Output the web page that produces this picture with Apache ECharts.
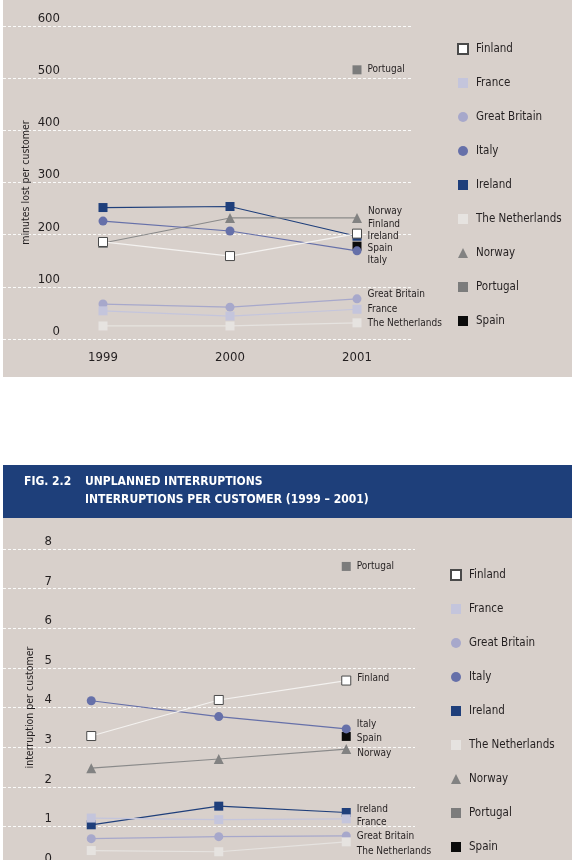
<!DOCTYPE html>
<html>
<head>
<meta charset="utf-8">
<script src="https://cdn.jsdelivr.net/npm/echarts@6/dist/echarts.min.js"></script>
<style>
html,body{margin:0;padding:0;background:#ffffff;}
#chart{width:576px;height:860px;}
</style>
</head>
<body>
<div id="chart"></div>
<script>
// ---------- DATA ----------
var years = ['1999', '2000', '2001'];
var countries = ['Finland', 'France', 'Great Britain', 'Italy', 'Ireland', 'The Netherlands', 'Norway', 'Portugal', 'Spain'];

// Fig 2.1 : minutes lost per customer
var minFinland     = [186, 159, 202];
var minFrance      = [54, 44, 57];
var minGreatBritain= [67, 61, 77];
var minItaly       = [226, 207, 169];
var minIreland     = [252, 254, 197];
var minNetherlands = [25, 25, 31];
var minNorway      = [184, 232, 232];
var minPortugal    = [null, null, 516];
var minSpain       = [null, null, 178];
var minTicks       = [0, 100, 200, 300, 400, 500, 600];

// Fig 2.2 : interruptions per customer
var intFinland     = [3.28, 4.19, 4.68];
var intFrance      = [1.21, 1.17, 1.19];
var intGreatBritain= [0.69, 0.74, 0.76];
var intItaly       = [4.17, 3.77, 3.46];
var intIreland     = [1.04, 1.51, 1.35];
var intNetherlands = [0.39, 0.36, 0.61];
var intNorway      = [2.47, 2.70, 2.95];
var intPortugal    = [null, null, 7.56];
var intSpain       = [null, null, 3.27];
var intTicks       = [0, 1, 2, 3, 4, 5, 6, 7, 8];

var headerFig   = 'FIG. 2.2';
var headerTitle = 'UNPLANNED INTERRUPTIONS\nINTERRUPTIONS PER CUSTOMER (1999 – 2001)';
var nameTop     = 'minutes lost per customer';
var nameBottom  = 'interruption per customer';

// ---------- STYLE ----------
var FONT = '"Liberation Sans Narrow", "DejaVu Sans Condensed", "Liberation Sans", sans-serif';
var TXT = '#231f20';
var styles = {
  'Finland':         {symbol: 'rect',     size: 9,  fill: '#ffffff', border: '#4a4a4a', bw: 1, line: '#f4f2f0', z: 6},
  'France':          {symbol: 'rect',     size: 9,  fill: '#c4c5dc', border: '#c4c5dc', bw: 0, line: '#c4c5dc', z: 5},
  'Great Britain':   {symbol: 'circle',   size: 9,  fill: '#a7a8cb', border: '#a7a8cb', bw: 0, line: '#a7a8cb', z: 3},
  'Italy':           {symbol: 'circle',   size: 9,  fill: '#6670a9', border: '#6670a9', bw: 0, line: '#6670a9', z: 4},
  'Ireland':         {symbol: 'rect',     size: 9,  fill: '#1f3f7b', border: '#1f3f7b', bw: 0, line: '#1f3f7b', z: 3},
  'The Netherlands': {symbol: 'rect',     size: 9,  fill: '#e6e3e0', border: '#e6e3e0', bw: 0, line: '#e6e3e0', z: 3},
  'Norway':          {symbol: 'triangle', size: 10, fill: '#828282', border: '#828282', bw: 0, line: '#8a8a8a', z: 3},
  'Portugal':        {symbol: 'rect',     size: 9,  fill: '#7c7c7c', border: '#7c7c7c', bw: 0, line: '#7c7c7c', z: 3},
  'Spain':           {symbol: 'rect',     size: 9,  fill: '#0b0b0b', border: '#0b0b0b', bw: 0, line: '#0b0b0b', z: 3}
};
// vertical shift of the end labels (px)
var offTop = {'Finland': -9, 'France': 0, 'Great Britain': -4, 'Italy': 10, 'Ireland': 0,
              'The Netherlands': 1, 'Norway': -7, 'Portugal': 0, 'Spain': 2};
var offBot = {'Finland': -2, 'France': 4, 'Great Britain': 1, 'Italy': -4, 'Ireland': -3,
              'The Netherlands': 10, 'Norway': 4, 'Portugal': 0, 'Spain': 2};

var dataTop = [minFinland, minFrance, minGreatBritain, minItaly, minIreland, minNetherlands, minNorway, minPortugal, minSpain];
var dataBot = [intFinland, intFrance, intGreatBritain, intItaly, intIreland, intNetherlands, intNorway, intPortugal, intSpain];

function buildSeries(arr, axisIdx, offs) {
  return countries.map(function (name, i) {
    var s = styles[name];
    var vals = arr[i];
    var last = vals.length - 1;
    var d = vals.map(function (v, j) {
      if (j === last) {
        return {value: v, label: {show: true, position: 'right', distance: 6, offset: [0, offs[name]],
          formatter: name, color: TXT, fontSize: 10, fontFamily: FONT}};
      }
      return v;
    });
    return {
      name: name, type: 'line', xAxisIndex: axisIdx, yAxisIndex: axisIdx,
      data: d, symbol: s.symbol, symbolSize: s.size, showAllSymbol: true,
      connectNulls: false, z: s.z,
      lineStyle: {color: s.line, width: 1.2},
      itemStyle: {color: s.fill, borderColor: s.border, borderWidth: s.bw, opacity: 1},
      emphasis: {disabled: true},
      animation: false
    };
  });
}

function legendData() {
  return countries.map(function (n) {
    return {name: n, icon: styles[n].symbol === 'circle' ? 'circle' : (styles[n].symbol === 'triangle' ? 'triangle' : 'rect')};
  });
}

function legend(left, top) {
  return {
    orient: 'vertical', left: left, top: top,
    itemWidth: 10, itemHeight: 10, itemGap: 18,
    selectedMode: false,
    data: legendData(),
    textStyle: {color: TXT, fontSize: 11.5, fontFamily: FONT, lineHeight: 16, padding: [0, 0, 0, 3]}
  };
}

var splitStyle = {show: true, lineStyle: {color: '#ffffff', type: [3, 2], width: 1, opacity: 0.9}};

var option = {
  backgroundColor: '#ffffff',
  animation: false,
  textStyle: {fontFamily: FONT},
  graphic: [
    {type: 'rect', z: -100, shape: {x: 3, y: 0, width: 569, height: 377}, style: {fill: '#d8d0cb'}, silent: true},
    {type: 'rect', z: -100, shape: {x: 3, y: 465, width: 569, height: 53}, style: {fill: '#1e3f7a'}, silent: true},
    {type: 'rect', z: -100, shape: {x: 3, y: 518, width: 569, height: 342}, style: {fill: '#d8d0cb'}, silent: true}
  ],
  title: [
    {text: headerFig, left: 24, top: 473, padding: 0,
      textStyle: {color: '#ffffff', fontSize: 12, fontWeight: 'bold', fontFamily: FONT, lineHeight: 18}},
    {text: headerTitle, left: 85, top: 473, padding: 0,
      textStyle: {color: '#ffffff', fontSize: 12, fontWeight: 'bold', fontFamily: FONT, lineHeight: 18}}
  ],
  legend: [legend(452, 36), legend(445, 562)],
  grid: [
    {left: 3, top: 26, width: 409, height: 313, containLabel: false, outerBoundsMode: 'none'},
    {left: 39.5, top: 26, width: 381, height: 313, containLabel: false, outerBoundsMode: 'none'},
    {left: 3, top: 549, width: 412, height: 317, containLabel: false, outerBoundsMode: 'none'},
    {left: 27.5, top: 549, width: 382.5, height: 317, containLabel: false, outerBoundsMode: 'none'}
  ],
  xAxis: [
    {gridIndex: 0, type: 'value', min: 0, max: 1, show: false},
    {gridIndex: 1, type: 'category', data: years, boundaryGap: true,
      axisLine: {show: false}, axisTick: {show: false}, splitLine: {show: false},
      axisLabel: {color: TXT, fontSize: 13, fontFamily: FONT, margin: 12}},
    {gridIndex: 2, type: 'value', min: 0, max: 1, show: false},
    {gridIndex: 3, type: 'category', data: years, boundaryGap: true,
      axisLine: {show: false}, axisTick: {show: false}, splitLine: {show: false},
      axisLabel: {color: TXT, fontSize: 13, fontFamily: FONT, margin: 12}}
  ],
  yAxis: [
    {gridIndex: 0, type: 'value', min: minTicks[0], max: minTicks[minTicks.length - 1], interval: minTicks[1] - minTicks[0],
      axisLine: {show: false}, axisTick: {show: false}, splitLine: splitStyle,
      axisLabel: {inside: true, align: 'right', margin: 57, verticalAlign: 'bottom', padding: [0, 0, 1, 0],
        color: TXT, fontSize: 13, fontFamily: FONT}},
    {gridIndex: 1, type: 'value', min: minTicks[0], max: minTicks[minTicks.length - 1],
      axisLine: {show: false}, axisTick: {show: false}, splitLine: {show: false}, axisLabel: {show: false},
      name: nameTop, nameLocation: 'middle', nameRotate: 90, nameGap: 8,
      nameTextStyle: {color: TXT, fontSize: 10.5, fontFamily: FONT}},
    {gridIndex: 2, type: 'value', min: intTicks[0], max: intTicks[intTicks.length - 1], interval: intTicks[1] - intTicks[0],
      axisLine: {show: false}, axisTick: {show: false}, splitLine: splitStyle,
      axisLabel: {inside: true, align: 'right', margin: 49, verticalAlign: 'bottom', padding: [0, 0, 1, 0],
        color: TXT, fontSize: 13, fontFamily: FONT}},
    {gridIndex: 3, type: 'value', min: intTicks[0], max: intTicks[intTicks.length - 1],
      axisLine: {show: false}, axisTick: {show: false}, splitLine: {show: false}, axisLabel: {show: false},
      name: nameBottom, nameLocation: 'middle', nameRotate: 90, nameGap: -8,
      nameTextStyle: {color: TXT, fontSize: 10.5, fontFamily: FONT}}
  ],
  series: buildSeries(dataTop, 1, offTop).concat(buildSeries(dataBot, 3, offBot))
};

var chart = echarts.init(document.getElementById('chart'), null, {renderer: 'canvas'});
chart.setOption(option);
</script>
</body>
</html>
